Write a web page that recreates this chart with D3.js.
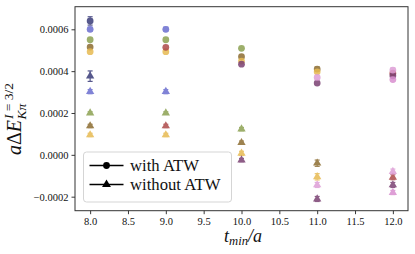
<!DOCTYPE html>
<html>
<head>
<meta charset="utf-8">
<script src="https://cdn.jsdelivr.net/npm/d3@7"></script>
<style>
  body { margin: 0; background: #fff; }
  svg { display: block; }
</style>
</head>
<body>
<div id="chart"></div>
<script>
// fit start times (x axis)
var tMin = [8, 9, 10, 11, 12];
var xTicks = [8.0, 8.5, 9.0, 9.5, 10.0, 10.5, 11.0, 11.5, 12.0];
var yTicks = [-0.0002, 0.0000, 0.0002, 0.0004, 0.0006];

// one entry per fit series (colour), values per tMin, null where the series has no point
var seriesNames = ["s1", "s2", "s3", "s4", "s5", "s6", "s7", "s8", "s9"];
var seriesColors = ["#393b79", "#6b6ecf", "#8ca252", "#8c6d31", "#e7ba52", "#ad494a", "#7b4173", "#de9ed6", "#d98fcf"];

var withATW = [
  [0.000640, null, null, null, null],
  [0.000600, 0.000600, null, null, null],
  [0.000550, 0.000550, 0.000509, null, null],
  [0.000515, null, 0.000469, 0.000410, null],
  [0.000493, 0.000493, 0.000448, 0.000397, null],
  [null, 0.000514, null, null, 0.000390],
  [null, null, 0.000433, 0.000343, 0.000378],
  [null, null, null, 0.000370, 0.000405],
  [null, null, null, null, 0.000360]
];
var withErr = [
  [0.000020, null, null, null, null],
  [0.000010, 0.000010, null, null, null],
  [0.000006, 0.000006, 0.000008, null, null],
  [0.000006, null, 0.000006, 0.000010, null],
  [0.000006, 0.000006, 0.000006, 0.000006, null],
  [null, 0.000006, null, null, 0.000008],
  [null, null, 0.000006, 0.000008, 0.000008],
  [null, null, null, 0.000008, 0.000010],
  [null, null, null, null, 0.000008]
];
var withoutATW = [
  [0.000376, null, null, null, null],
  [0.000302, 0.000302, null, null, null],
  [0.000200, 0.000200, 0.000123, null, null],
  [0.000138, null, 0.000058, -0.000040, null],
  [0.000095, 0.000095, 0.000007, -0.000105, null],
  [null, 0.000138, null, null, -0.000107],
  [null, null, -0.000025, -0.000211, -0.000144],
  [null, null, null, -0.000144, -0.000080],
  [null, null, null, null, -0.000180]
];
var withoutErr = [
  [0.000025, null, null, null, null],
  [0.000010, 0.000010, null, null, null],
  [0.000006, 0.000006, 0.000008, null, null],
  [0.000008, null, 0.000008, 0.000015, null],
  [0.000008, 0.000008, 0.000010, 0.000015, null],
  [null, 0.000008, null, null, 0.000012],
  [null, null, 0.000008, 0.000012, 0.000012],
  [null, null, null, 0.000012, 0.000012],
  [null, null, null, null, 0.000010]
];

var W = 415, H = 254;
var margin = { top: 6.7, right: 7, bottom: 43.3, left: 75 };
var width = W - margin.left - margin.right,
    height = H - margin.top - margin.bottom;
var serif = "'Liberation Serif', 'DejaVu Serif', serif";

var svg = d3.select("#chart").append("svg")
    .attr("width", W)
    .attr("height", H);

var g = svg.append("g")
    .attr("transform", "translate(" + margin.left + "," + margin.top + ")");

var x = d3.scaleLinear().domain([7.8, 12.2]).range([0, width]);
var y = d3.scaleLinear().domain([-0.000267, 0.000708]).range([height, 0]);

// axes
var xAxis = d3.axisBottom(x).tickValues(xTicks).tickFormat(d3.format(".1f")).tickSize(3.5).tickPadding(3);
var yAxis = d3.axisLeft(y).tickValues(yTicks)
    .tickFormat(function(d) { return d3.format(".4f")(d).replace("-", "\u2212"); })
    .tickSize(3.5).tickPadding(3);

var gx = g.append("g").attr("transform", "translate(0," + height + ")").call(xAxis);
var gy = g.append("g").call(yAxis);
[gx, gy].forEach(function(a) {
  a.select(".domain").remove();
  a.selectAll("line").attr("stroke", "#222").attr("stroke-width", 0.9);
  a.selectAll("text").attr("font-family", serif).attr("font-size", 10.5).attr("fill", "#111");
});

// frame
g.append("rect")
    .attr("width", width).attr("height", height)
    .attr("fill", "none").attr("stroke", "#333").attr("stroke-width", 1);

// points
var symCircle = d3.symbol().type(d3.symbolCircle).size(36);
var symTri = d3.symbol().type(d3.symbolTriangle).size(30);

function drawSet(values, errs, sym) {
  values.forEach(function(row, si) {
    var pts = [];
    row.forEach(function(v, i) {
      if (v !== null) pts.push({ t: tMin[i], v: v, e: errs[si][i] });
    });
    var color = seriesColors[si];
    var sg = g.append("g").attr("class", "series " + seriesNames[si]).attr("opacity", 0.85);
    sg.selectAll(".err").data(pts).enter().append("line")
        .attr("x1", function(d) { return x(d.t); })
        .attr("x2", function(d) { return x(d.t); })
        .attr("y1", function(d) { return y(d.v - d.e); })
        .attr("y2", function(d) { return y(d.v + d.e); })
        .attr("stroke", color).attr("stroke-width", 1.2);
    [-1, 1].forEach(function(s) {
      sg.selectAll(".cap" + s).data(pts).enter().append("line")
          .attr("x1", function(d) { return x(d.t) - 2.5; })
          .attr("x2", function(d) { return x(d.t) + 2.5; })
          .attr("y1", function(d) { return y(d.v + s * d.e); })
          .attr("y2", function(d) { return y(d.v + s * d.e); })
          .attr("stroke", color).attr("stroke-width", 1.2);
    });
    sg.selectAll(".pt").data(pts).enter().append("path")
        .attr("d", sym)
        .attr("transform", function(d) { return "translate(" + x(d.t) + "," + y(d.v) + ")"; })
        .attr("fill", color);
  });
}
drawSet(withATW, withErr, symCircle);
drawSet(withoutATW, withoutErr, symTri);

// legend
var lg = g.append("g").attr("transform", "translate(" + (83.5 - margin.left) + "," + (152 - margin.top) + ")");
lg.append("rect")
    .attr("width", 148).attr("height", 50).attr("rx", 3)
    .attr("fill", "#fff").attr("fill-opacity", 0.8)
    .attr("stroke", "#d5d5d5").attr("stroke-width", 1);
var legendItems = [
  { label: "with ATW", sym: d3.symbol().type(d3.symbolCircle).size(36) },
  { label: "without ATW", sym: d3.symbol().type(d3.symbolTriangle).size(34) }
];
legendItems.forEach(function(it, i) {
  var cy = 13.5 + i * 19;
  lg.append("line").attr("x1", 6).attr("x2", 40).attr("y1", cy).attr("y2", cy)
      .attr("stroke", "#000").attr("stroke-width", 1.5);
  lg.append("path").attr("d", it.sym).attr("transform", "translate(23," + cy + ")").attr("fill", "#000");
  lg.append("text").attr("x", 46.5).attr("y", cy + 5.5)
      .attr("font-family", serif).attr("font-size", 16.7).attr("fill", "#111")
      .text(it.label);
});

// x label: t_min / a
var xl = svg.append("text")
    .attr("x", 243).attr("y", 242)
    .attr("text-anchor", "middle")
    .attr("font-family", serif).attr("font-size", 18).attr("font-style", "italic").attr("fill", "#111");
xl.append("tspan").text("t");
xl.append("tspan").attr("font-size", 12.6).attr("dy", 3).text("min");
xl.append("tspan").attr("dy", -3).text("/a");

// y label: a ΔE^{I=3/2}_{Kπ}
var yl = svg.append("g").attr("transform", "translate(21,119) rotate(-90)");
var main = yl.append("text").attr("font-family", serif).attr("font-size", 20).attr("fill", "#111");
main.append("tspan").attr("font-style", "italic").text("a");
main.append("tspan").text("\u0394");
main.append("tspan").attr("font-style", "italic").text("E");
var mw = main.node().getComputedTextLength();
var sup = yl.append("text").attr("x", mw + 1).attr("y", -8.5)
    .attr("font-family", serif).attr("font-size", 13.5).attr("fill", "#111");
sup.append("tspan").attr("font-style", "italic").text("I");
sup.append("tspan").text(" = 3/2");
var sub = yl.append("text").attr("x", mw + 0.5).attr("y", 5)
    .attr("font-family", serif).attr("font-size", 13.5).attr("font-style", "italic").attr("fill", "#111")
    .text("K\u03c0");
var total = mw + 1 + Math.max(sup.node().getComputedTextLength(), sub.node().getComputedTextLength());
yl.selectAll("text").attr("transform", "translate(" + (-total / 2) + ",0)");
</script>
</body>
</html>
